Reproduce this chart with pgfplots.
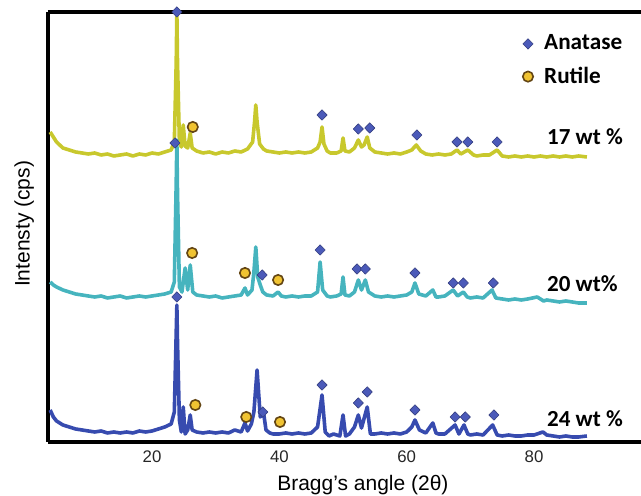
\documentclass[border=0pt]{standalone}
\usepackage{fontspec}
\setmainfont{Liberation Sans}
\newfontfamily\carl{Carlito}
\usepackage{pgfplots}
\usepackage{pgfplotstable}
\pgfplotsset{compat=1.18}

\definecolor{c17}{RGB}{200,200,45}
\definecolor{c20}{RGB}{70,180,190}
\definecolor{c24}{RGB}{55,75,175}
\definecolor{anat}{RGB}{75,90,185}
\definecolor{rutf}{RGB}{240,195,50}
\definecolor{ruto}{RGB}{100,70,20}

% 17 wt %
\pgfplotstableread{
x y
4.0 310
4.5 305
5 300
5.5 297
6 294
7 292
8 290
9 289
10 288
11 289
12 287
13 288
14 286
15 287
16 288
17 286
18 288
19 287
20 289
21 288
22 290
23 292
23.5 300
23.8 380
23.9 430
24.0 380
24.3 300
24.6 295
24.9 317
25.2 296
25.6 294
26.0 309
26.3 294
27 291
28 289
29 290
30 288
31 290
32 289
33 291
34 290
35 293
35.8 300
36.1 320
36.3 337
36.5 320
36.9 298
37.5 293
38 291
39 290
40 289
41 290
42 289
43 290
44 289
45 290
46 294
46.4 300
46.7 315
47.0 298
47.5 291
48 289
49 289
49.7 291
50.0 304
50.3 291
51 290
51.8 294
52.4 302
52.9 295
53.3 297
53.8 305
54.2 294
55 290
56 289
57 288
58 289
59 288
60 290
60.8 292
61.5 297
62.2 291
63 288
64 287
65 288
66 287
67 288
67.9 292
68.5 288
69.6 292
70.5 287
71 286
72 287
73 287
74.2 292
75 286
76 285
77 286
78 285
79 286
80 285
81 286
82 285
83 286
84 285
85 286
86 285
87 286
88.3 285
}\seventeen

% 20 wt %
\pgfplotstableread{
x y
4.0 160
4.5 157
5 155
6 152
7 150
8 148
9 147
10 146
11 145
12 146
13 144
14 145
15 146
16 144
17 145
18 146
19 145
20 146
21 147
22 148
23 150
23.5 160
23.8 260
23.9 302
24.0 250
24.3 155
24.7 150
25.2 174
25.6 152
26.0 177
26.4 150
27 147
28 146
29 145
30 146
31 144
32 145
33 146
34 147
34.6 154
35.0 147
35.7 152
36.0 170
36.3 195
36.6 165
37.0 157
37.4 150
38 147
39 146
39.8 150
40.3 146
41 145
42 146
43 145
44 146
45 146
46 150
46.4 180
46.8 152
47.5 146
48 145
49 146
49.7 148
50.0 165
50.3 147
51 146
51.8 150
52.4 162
52.9 152
53.5 162
54 150
55 146
56 145
57 146
58 145
59 146
60 147
60.8 150
61.3 159
61.9 148
63 146
64.1 152
64.6 145
65 145
66 146
67.3 152
68 146
68.9 150
69.5 145
70 144
71 145
72 144
73.4 152
74 144
75 143
76 142
77 143
78 142
79 143
80.5 145
81.5 141
82 142
83 141
84 140
85 141
86 140
87 139
88.3 139
}\twenty

% 24 wt %
\pgfplotstableread{
x y
4.0 32
4.5 25
5 21
6 17
7 15
8 13
9 12
10 11
11 10
12 11
13 9
14 10
15 9
16 10
17 9
18 11
19 10
20 11
21 13
22 15
23 18
23.5 30
23.8 110
23.9 137
24.0 100
24.3 22
24.6 10
24.9 35
25.2 8
25.6 12
26.0 27
26.3 12
27 10
28 9
29 10
30 9
31 10
32 9
33 12
34 10
34.6 19
35.0 11
35.6 18
36.0 30
36.5 72
37.0 25
37.5 30
37.9 12
38.5 9
39 8
40 8
41 9
42 8
43 9
44 8
45 9
46 15
46.7 47
47.2 10
47.8 6
48.5 8
49.5 6
50.0 27
50.4 6
51 8
51.8 15
52.4 27
52.9 14
53.8 35
54.3 8
55 8
56 9
57 8
58 9
59 8
60 10
60.8 15
61.3 22
62 12
63 9
64.1 19
64.6 9
65 8
66 8
67.6 17
68.2 8
69.0 17
69.6 8
70 7
71 8
72 7
73.5 17
74.2 7
75 6
76 7
77 6
78 6
79 7
80 7
81.4 10
82 7
83 6
84 5
85 6
86 5
87 5
88.3 6
}\twentyfour

% phase markers
\pgfplotstableread{
x y
23.9 430
23.6 299
46.7 327
52.4 313
54.2 314
61.6 307
67.9 300
69.6 300
74.2 300
23.9 145
37.3 167
46.4 192
52.2 173
53.5 173
61.3 169
67.3 159
68.9 159
73.6 159
37.4 30
46.7 57
52.4 39
53.8 50
61.3 32
67.6 25
69.2 25
73.7 27
}\anatase

\pgfplotstableread{
x y
26.4 315
26.3 189
34.6 169
39.8 162
26.8 37
34.8 25
40.1 20
}\rutile

\begin{document}
\begin{tikzpicture}
\begin{axis}[
    name=ax,
    scale only axis,
    width=296.5pt, height=215pt,
    xmin=3.66, xmax=96.8, ymin=0, ymax=430,
    axis x line*=box, axis y line*=left,
    axis line style={line width=1.6pt, black},
    xtick={20,40,60,80}, ytick=\empty,
    xtick pos=bottom,
    major tick length=0pt,
    /pgf/number format/assume math mode=true,
    xticklabel style={font=\fontsize{8.4}{10}\selectfont, text=black!85, yshift=-1pt},
    xlabel={Bragg’s angle (2θ)},
    xlabel style={font=\fontsize{10.5}{12}\selectfont, at={(rel axis cs:0.531,0)}, anchor=north, yshift=-13pt},
    ylabel={Intensty (cps)},
    ylabel style={font=\fontsize{10.5}{12}\selectfont, at={(rel axis cs:0,0.507)}, anchor=south, yshift=3.5pt},
    clip=false,
    legend style={draw=none, fill=none, at={(rel axis cs:0.80,0.957)}, anchor=north west,
        font=\carl\bfseries\fontsize{11.6}{13}\selectfont, row sep=3pt, inner sep=0pt,
        nodes={inner xsep=5.5pt}},
    legend cell align=left,
]
\addplot[c17, line width=1.8pt, line join=round, forget plot] table {\seventeen};
\addplot[c20, line width=1.8pt, line join=round, forget plot] table {\twenty};
\addplot[c24, line width=1.8pt, line join=round, forget plot] table {\twentyfour};
\addplot[only marks, mark=diamond*, mark size=2.6pt, mark options={xscale=1.3, fill=anat, draw=anat!70!black, line width=0.3pt, line join=round}] table {\anatase};
\addlegendentry{Anatase}
\addplot[only marks, mark=*, mark size=2.6pt, mark options={fill=rutf, draw=ruto, line width=0.8pt}] table {\rutile};
\addlegendentry{Rutile}
\node[anchor=west, inner sep=0pt, font=\carl\bfseries\fontsize{11.5}{13}\selectfont] at (axis cs:82,305) {17 wt \%};
\node[anchor=west, inner sep=0pt, font=\carl\bfseries\fontsize{11.5}{13}\selectfont] at (axis cs:82,158) {20 wt\%};
\node[anchor=west, inner sep=0pt, font=\carl\bfseries\fontsize{11.5}{13}\selectfont] at (axis cs:82,23) {24 wt \%};
\end{axis}
\pgfresetboundingbox
\useasboundingbox ([xshift=-24pt,yshift=-27pt]ax.south west) rectangle ([yshift=6pt]ax.north east);
\end{tikzpicture}
\end{document}
